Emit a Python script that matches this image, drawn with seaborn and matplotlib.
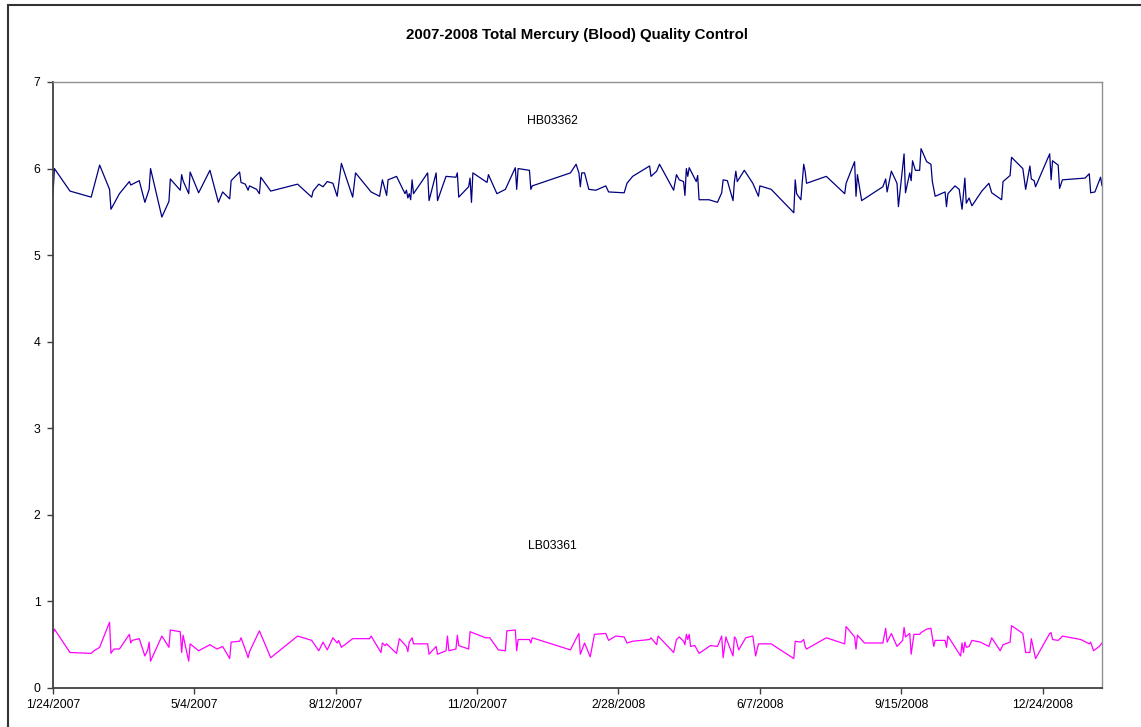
import pandas as pd
import matplotlib.pyplot as plt
import matplotlib.ticker as mticker
import matplotlib.dates as mdates
from matplotlib.patches import Rectangle
import seaborn as sns

START = pd.Timestamp("2007-01-24")
X_SPAN_DAYS = 742

# HB03362 (high pool) - days since 1/24/2007 and result
HB_DAYS = [
    0, 1, 12, 27, 33, 40, 41, 47, 54, 55, 61, 65, 68, 69, 77, 82, 83, 90, 91, 92,
    96, 97, 103, 111, 117, 120, 125, 126, 132, 133, 136, 138, 139, 144, 146, 147,
    154, 173, 183, 184, 188, 191, 194, 198, 201, 204, 212, 214, 225, 231, 233, 236,
    237, 243, 249, 250, 251, 252, 253, 254, 255, 265, 266, 271, 272, 278, 285, 286,
    287, 294, 295, 296, 297, 307, 308, 314, 320, 327, 328, 329, 337, 338, 339, 366,
    370, 372, 373, 374, 376, 379, 384, 391, 393, 404, 406, 410, 422, 423, 427, 429,
    439, 441, 443, 446, 447, 448, 449, 450, 455, 456, 457, 464, 470, 473, 474, 477,
    481, 482, 483, 484, 489, 495, 499, 500, 508, 524, 525, 526, 529, 531, 532, 533,
    547, 560, 561, 567, 568, 569, 572, 587, 589, 590, 593, 597, 598, 602, 603, 606,
    607, 608, 610, 613, 614, 618, 621, 622, 624, 631, 632, 633, 638, 641, 643, 645,
    646, 648, 650, 657, 662, 664, 671, 672, 677, 678, 686, 688, 691, 692, 694, 695,
    705, 706, 707, 711, 712, 714, 730, 733, 734, 737, 741, 742,
]
HB_VALUES = [
    5.71, 6.00, 5.74, 5.67, 6.04, 5.76, 5.53, 5.71, 5.85, 5.81, 5.86, 5.61, 5.76, 6.00,
    5.44, 5.62, 5.88, 5.75, 5.93, 5.86, 5.71, 5.96, 5.72, 5.98, 5.61, 5.73, 5.65, 5.86,
    5.96, 5.84, 5.82, 5.75, 5.80, 5.76, 5.71, 5.90, 5.74, 5.82, 5.67, 5.74, 5.82, 5.79,
    5.85, 5.83, 5.68, 6.06, 5.67, 5.95, 5.73, 5.68, 5.87, 5.69, 5.87, 5.91, 5.71, 5.75,
    5.66, 5.71, 5.64, 5.87, 5.71, 5.95, 5.63, 5.95, 5.63, 5.91, 5.90, 5.95, 5.67, 5.79,
    5.89, 5.61, 5.95, 5.84, 5.93, 5.71, 5.76, 6.01, 5.76, 6.00, 5.98, 5.76, 5.80, 5.95,
    6.05, 5.95, 5.79, 5.95, 5.95, 5.76, 5.75, 5.80, 5.73, 5.72, 5.83, 5.91, 6.03, 5.91,
    5.97, 6.05, 5.75, 5.93, 5.87, 5.85, 5.69, 6.00, 5.91, 6.01, 5.85, 5.92, 5.64, 5.64,
    5.61, 5.72, 5.87, 5.86, 5.63, 5.85, 5.97, 5.85, 5.98, 5.83, 5.68, 5.80, 5.76, 5.49,
    5.87, 5.71, 5.64, 6.05, 5.97, 5.83, 5.91, 5.71, 5.83, 6.08, 5.68, 5.93, 5.63, 5.79,
    5.88, 5.73, 5.97, 5.83, 5.56, 6.17, 5.72, 5.95, 5.86, 6.09, 5.98, 5.98, 6.23, 6.08,
    6.05, 5.85, 5.68, 5.73, 5.56, 5.71, 5.80, 5.76, 5.53, 5.89, 5.60, 5.66, 5.57, 5.74,
    5.83, 5.72, 5.64, 5.85, 5.92, 6.13, 6.00, 5.76, 6.03, 5.88, 5.86, 5.79, 6.17, 5.87,
    6.09, 6.04, 5.77, 5.87, 5.89, 5.94, 5.72, 5.73, 5.90, 5.80,
]

# LB03361 (low pool)
LB_DAYS = [
    0, 1, 12, 27, 29, 33, 40, 41, 43, 47, 54, 55, 56, 61, 65, 67, 68, 69, 77, 82,
    83, 90, 91, 92, 96, 97, 103, 111, 116, 120, 125, 126, 132, 133, 137, 138, 139,
    146, 154, 173, 183, 188, 191, 194, 198, 201, 202, 204, 212, 224, 225, 232, 233,
    235, 236, 243, 245, 250, 251, 252, 254, 255, 265, 266, 271, 272, 278, 279, 280,
    285, 286, 287, 294, 295, 306, 309, 315, 320, 321, 327, 328, 329, 337, 338, 339,
    366, 370, 372, 373, 376, 380, 383, 391, 393, 398, 404, 406, 410, 422, 423, 427,
    428, 439, 441, 443, 446, 447, 448, 449, 450, 451, 454, 457, 465, 470, 473, 474,
    476, 477, 481, 482, 483, 485, 490, 495, 497, 499, 508, 524, 525, 529, 531, 532,
    533, 547, 560, 561, 567, 568, 569, 574, 587, 589, 590, 593, 597, 601, 602, 603,
    606, 607, 609, 613, 614, 618, 621, 623, 624, 631, 632, 633, 642, 643, 644, 645,
    646, 648, 650, 656, 662, 664, 670, 672, 677, 678, 686, 688, 691, 692, 695, 705,
    706, 707, 711, 713, 714, 727, 733, 734, 736, 740, 742,
]
LB_VALUES = [
    0.63, 0.68, 0.41, 0.40, 0.43, 0.47, 0.76, 0.40, 0.45, 0.45, 0.62, 0.52, 0.55, 0.57,
    0.37, 0.44, 0.53, 0.31, 0.60, 0.47, 0.67, 0.65, 0.41, 0.61, 0.31, 0.51, 0.43, 0.50,
    0.45, 0.48, 0.34, 0.53, 0.54, 0.58, 0.40, 0.35, 0.42, 0.66, 0.35, 0.60, 0.55, 0.43,
    0.53, 0.44, 0.58, 0.52, 0.55, 0.47, 0.57, 0.57, 0.60, 0.41, 0.52, 0.49, 0.51, 0.40,
    0.57, 0.48, 0.42, 0.53, 0.58, 0.51, 0.51, 0.39, 0.48, 0.39, 0.43, 0.60, 0.43, 0.45,
    0.61, 0.49, 0.45, 0.65, 0.58, 0.58, 0.44, 0.43, 0.66, 0.67, 0.43, 0.56, 0.56, 0.52,
    0.58, 0.44, 0.57, 0.63, 0.39, 0.52, 0.36, 0.62, 0.63, 0.55, 0.60, 0.59, 0.52, 0.54,
    0.56, 0.58, 0.50, 0.60, 0.41, 0.56, 0.59, 0.54, 0.50, 0.62, 0.56, 0.62, 0.48, 0.49,
    0.40, 0.49, 0.48, 0.60, 0.35, 0.59, 0.54, 0.37, 0.59, 0.57, 0.44, 0.58, 0.60, 0.37,
    0.51, 0.51, 0.34, 0.54, 0.53, 0.56, 0.48, 0.45, 0.58, 0.51, 0.71, 0.59, 0.45, 0.61,
    0.52, 0.52, 0.69, 0.53, 0.63, 0.48, 0.55, 0.70, 0.59, 0.63, 0.39, 0.62, 0.62, 0.64,
    0.68, 0.69, 0.48, 0.55, 0.55, 0.47, 0.60, 0.37, 0.52, 0.41, 0.53, 0.47, 0.48, 0.55,
    0.53, 0.48, 0.58, 0.43, 0.50, 0.53, 0.72, 0.63, 0.41, 0.41, 0.57, 0.34, 0.63, 0.64,
    0.56, 0.55, 0.58, 0.60, 0.56, 0.51, 0.53, 0.43, 0.48, 0.52,
]

SERIES_LABELS = ["HB03362", "LB03361"]
LABEL_POS = [(353, 6.55), (353, 1.64)]  # (day, value) where each series name sits
TITLE = "2007-2008 Total Mercury (Blood) Quality Control"


def to_frame(days, values, name):
    return pd.DataFrame({
        "date": START + pd.to_timedelta(days, unit="D"),
        "result": values,
        "pool": name,
    })


def main():
    sns.set_style("white")
    plt.rcParams["font.family"] = ["Liberation Sans", "DejaVu Sans"]
    plt.rcParams["text.color"] = "black"
    plt.rcParams["xtick.color"] = "black"
    plt.rcParams["ytick.color"] = "black"

    hb = to_frame(HB_DAYS, HB_VALUES, SERIES_LABELS[0])
    lb = to_frame(LB_DAYS, LB_VALUES, SERIES_LABELS[1])

    fig = plt.figure(figsize=(11.41, 7.27), dpi=100)
    ax = fig.add_axes([53 / 1141, 1 - 688 / 727, 1049 / 1141, 606 / 727])

    sns.lineplot(data=hb, x="date", y="result", color="#000080", linewidth=0.9,
                 estimator=None, sort=False, ax=ax)
    sns.lineplot(data=lb, x="date", y="result", color="#FF00FF", linewidth=0.9,
                 estimator=None, sort=False, ax=ax)

    for name, (day, val) in zip(SERIES_LABELS, LABEL_POS):
        ax.text(START + pd.Timedelta(days=day), val, name, ha="center", va="center",
                fontsize=8.8, color="black")

    ax.set_xlim(START, START + pd.Timedelta(days=X_SPAN_DAYS))
    ax.set_ylim(0, 7)
    ticks = [START + pd.Timedelta(days=d) for d in range(0, X_SPAN_DAYS, 100)]
    ax.set_xticks(ticks)
    ax.xaxis.set_major_formatter(mticker.FuncFormatter(
        lambda v, _: (lambda d: f"{d.month}/{d.day}/{d.year}")(mdates.num2date(v))))
    ax.set_yticks(range(0, 8))
    ax.set_xlabel("")
    ax.set_ylabel("")
    ax.tick_params(axis="both", direction="out", length=4, width=1, color="#404040",
                   labelcolor="black", labelsize=8.8, pad=4, bottom=True, left=True)
    ax.tick_params(axis="y", pad=5)

    for side in ["left", "bottom"]:
        ax.spines[side].set_color("#404040")
        ax.spines[side].set_linewidth(1.3)
    for side in ["top", "right"]:
        ax.spines[side].set_color("#909090")
        ax.spines[side].set_linewidth(1.0)

    ax.set_title(TITLE, fontsize=10.8, fontweight="bold", pad=31, color="black")

    fig.patches.append(Rectangle((8 / 1141, -0.1), 1.2, 1.1 - 5 / 727, fill=False,
                                 edgecolor="#333333", linewidth=1.5,
                                 transform=fig.transFigure, figure=fig))

    fig.savefig("out.png", dpi=100)
    plt.close(fig)


if __name__ == "__main__":
    main()
